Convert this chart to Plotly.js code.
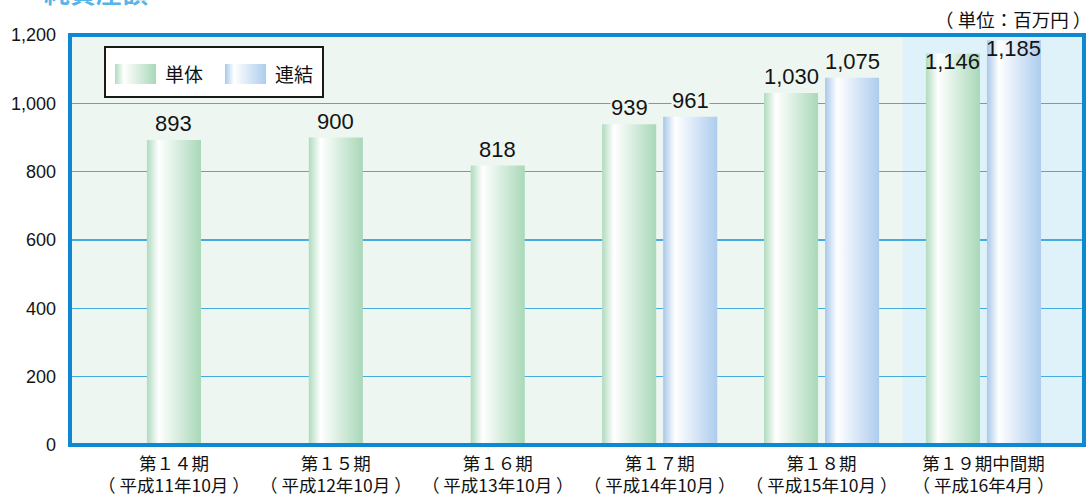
<!DOCTYPE html>
<html>
<head>
<meta charset="utf-8">
<script src="https://cdn.plot.ly/plotly-3.0.1.min.js"></script>
<style>
  html, body { margin: 0; padding: 0; background: #ffffff; }
  #chart { width: 1091px; height: 497px; }
</style>
</head>
<body>
<div id="chart"></div>
<script>
// 純資産額（単位：百万円）
const periodNames = ['第１４期', '第１５期', '第１６期', '第１７期', '第１８期', '第１９期中間期'];
const periodDates = ['（ 平成11年10月 ）', '（ 平成12年10月 ）', '（ 平成13年10月 ）', '（ 平成14年10月 ）', '（ 平成15年10月 ）', '（ 平成16年4月 ）'];
const tantai = [893, 900, 818, 939, 1030, 1146];      // 単体
const renketsu = [null, null, null, 961, 1075, 1185];  // 連結

const categories = periodNames.map((n, i) => n + '<br>' + periodDates[i]);

// layout geometry (pixels)
const W = 1091, H = 497;
const M = { l: 70, r: 7, t: 35, b: 52 };
const plotW = W - M.l - M.r, plotH = H - M.t - M.b;
const fx = px => (px - M.l) / plotW;
const fy = py => (M.t + plotH - py) / plotH;

const xRange = [-0.642, categories.length - 1 + 0.621];
const barW = 0.334, barGap = 0.043;

const PLOT_BG = '#edf6f1';
const HILITE_BG = '#dff2fa';
const FRAME = '#0e88d3';
const GRID = '#45ace0';
const NUM_FONT = 'Liberation Sans, Arial, sans-serif';
const JP_FONT = 'Noto Sans CJK JP, sans-serif';

// bar placement: a single bar is centred, a pair sits either side of the centre
const paired = renketsu.map(v => v !== null);
const tantaiOffset = paired.map(p => p ? -barW - barGap / 2 : -barW / 2);
const renketsuOffset = paired.map(() => barGap / 2);

const traces = [
  {
    type: 'bar', name: '単体', x: categories, y: tantai,
    width: categories.map(() => barW), offset: tantaiOffset,
    marker: { color: '#b3dcc1', line: { width: 0 } },
    hoverinfo: 'skip'
  },
  {
    type: 'bar', name: '連結', x: categories, y: renketsu,
    width: categories.map(() => barW), offset: renketsuOffset,
    marker: { color: '#aecdeb', line: { width: 0 } },
    hoverinfo: 'skip'
  }
];

// value labels; the latest period's labels sit just inside the bar tops
const annotations = [];
const lastIdx = categories.length - 1;
function addValueLabels(values, offsets) {
  values.forEach((v, i) => {
    if (v === null) return;
    const inside = i === lastIdx;
    annotations.push({
      x: i + offsets[i] + barW / 2, y: v, xref: 'x', yref: 'y',
      text: v.toLocaleString('en-US'), showarrow: false,
      yanchor: inside ? 'top' : 'bottom', yshift: inside ? 5 : 3,
      font: { family: NUM_FONT, size: 22, color: '#141414' },
      bgcolor: inside ? 'rgba(0,0,0,0)' : PLOT_BG, borderpad: 0
    });
  });
}
addValueLabels(tantai, tantaiOffset);
addValueLabels(renketsu, renketsuOffset);

// legend text, unit note, heading
annotations.push(
  { xref: 'paper', yref: 'paper', x: fx(163), y: fy(74), xanchor: 'left', yanchor: 'middle',
    text: '単体', showarrow: false, font: { family: JP_FONT, size: 19, color: '#111' } },
  { xref: 'paper', yref: 'paper', x: fx(273), y: fy(74), xanchor: 'left', yanchor: 'middle',
    text: '連結', showarrow: false, font: { family: JP_FONT, size: 19, color: '#111' } },
  { xref: 'paper', yref: 'paper', x: fx(1093), y: fy(19), xanchor: 'right', yanchor: 'middle',
    text: '（ 単位：百万円 ）', showarrow: false, font: { family: JP_FONT, size: 18.5, color: '#111' } },
  { xref: 'paper', yref: 'paper', x: fx(42), y: fy(12), xanchor: 'left', yanchor: 'bottom',
    text: '<b>純資産額</b>', showarrow: false, font: { family: JP_FONT, size: 26, color: '#55b4e8' } }
);

const shapes = [
  // highlighted latest period
  { type: 'rect', xref: 'x', yref: 'paper', x0: lastIdx - 0.5, x1: xRange[1], y0: 0, y1: 1,
    fillcolor: HILITE_BG, line: { width: 0 }, layer: 'below' },
  // frame
  { type: 'rect', xref: 'paper', yref: 'paper', x0: 0, x1: 1, y0: 0, y1: 1,
    fillcolor: 'rgba(0,0,0,0)', line: { color: FRAME, width: 4 }, layer: 'above' },
  // legend box and swatches
  { type: 'rect', xref: 'paper', yref: 'paper', x0: fx(105), x1: fx(323), y0: fy(97), y1: fy(47),
    fillcolor: '#ffffff', line: { color: '#1a1a1a', width: 2 }, layer: 'above' },
  { type: 'rect', xref: 'paper', yref: 'paper', x0: fx(115), x1: fx(156), y0: fy(84), y1: fy(64),
    fillcolor: '#b3dcc1', line: { width: 0 }, layer: 'above' },
  { type: 'rect', xref: 'paper', yref: 'paper', x0: fx(225), x1: fx(266), y0: fy(84), y1: fy(64),
    fillcolor: '#aecdeb', line: { width: 0 }, layer: 'above' }
];
const swatchShapes = { 3: 'grad-tantai', 4: 'grad-renketsu' };

const layout = {
  width: W, height: H,
  margin: M,
  paper_bgcolor: '#ffffff',
  plot_bgcolor: PLOT_BG,
  showlegend: false,
  barmode: 'overlay',
  xaxis: {
    type: 'category', range: xRange, fixedrange: true,
    showgrid: false, zeroline: false, showline: false, ticks: '',
    tickfont: { family: JP_FONT, size: 17.5, color: '#111' },
    ticklabelstandoff: 6
  },
  yaxis: {
    range: [0, 1200], fixedrange: true,
    tickvals: [0, 200, 400, 600, 800, 1000, 1200],
    tickformat: ',d',
    showgrid: true, gridcolor: GRID, gridwidth: 1.5,
    zeroline: false, showline: false, ticks: '',
    tickfont: { family: NUM_FONT, size: 18, color: '#141414' },
    ticklabelstandoff: 13
  },
  shapes: shapes,
  annotations: annotations
};

// horizontal cylinder shading for the bars and legend swatches
const gradients = {
  'grad-tantai': [[0, '#b0dbbf'], [0.22, '#ffffff'], [1, '#a9d8b8']],
  'grad-renketsu': [[0, '#a8c8ea'], [0.22, '#ffffff'], [1, '#adcdee']]
};
const traceGradient = ['grad-tantai', 'grad-renketsu'];

function applyGradients(gd) {
  const svgNS = 'http://www.w3.org/2000/svg';
  const svg = gd.querySelector('.main-svg');
  let defs = svg.querySelector('defs');
  if (!defs) { defs = document.createElementNS(svgNS, 'defs'); svg.insertBefore(defs, svg.firstChild); }
  Object.keys(gradients).forEach(id => {
    if (defs.querySelector('#' + id)) return;
    const g = document.createElementNS(svgNS, 'linearGradient');
    g.setAttribute('id', id);
    g.setAttribute('x1', '0'); g.setAttribute('x2', '1');
    g.setAttribute('y1', '0'); g.setAttribute('y2', '0');
    gradients[id].forEach(([off, col]) => {
      const s = document.createElementNS(svgNS, 'stop');
      s.setAttribute('offset', off);
      s.setAttribute('stop-color', col);
      g.appendChild(s);
    });
    defs.appendChild(g);
  });
  gd.querySelectorAll('.barlayer .trace').forEach((tr, k) => {
    tr.querySelectorAll('.point path').forEach(p => { p.style.fill = 'url(#' + traceGradient[k] + ')'; });
  });
  gd.querySelectorAll('.shapelayer path').forEach(p => {
    const idx = p.getAttribute('data-index');
    if (swatchShapes[idx]) p.style.fill = 'url(#' + swatchShapes[idx] + ')';
  });
}

const gd = document.getElementById('chart');
Plotly.newPlot(gd, traces, layout, { staticPlot: true, displayModeBar: false }).then(() => {
  applyGradients(gd);
  gd.on('plotly_afterplot', () => applyGradients(gd));
});
</script>
</body>
</html>
